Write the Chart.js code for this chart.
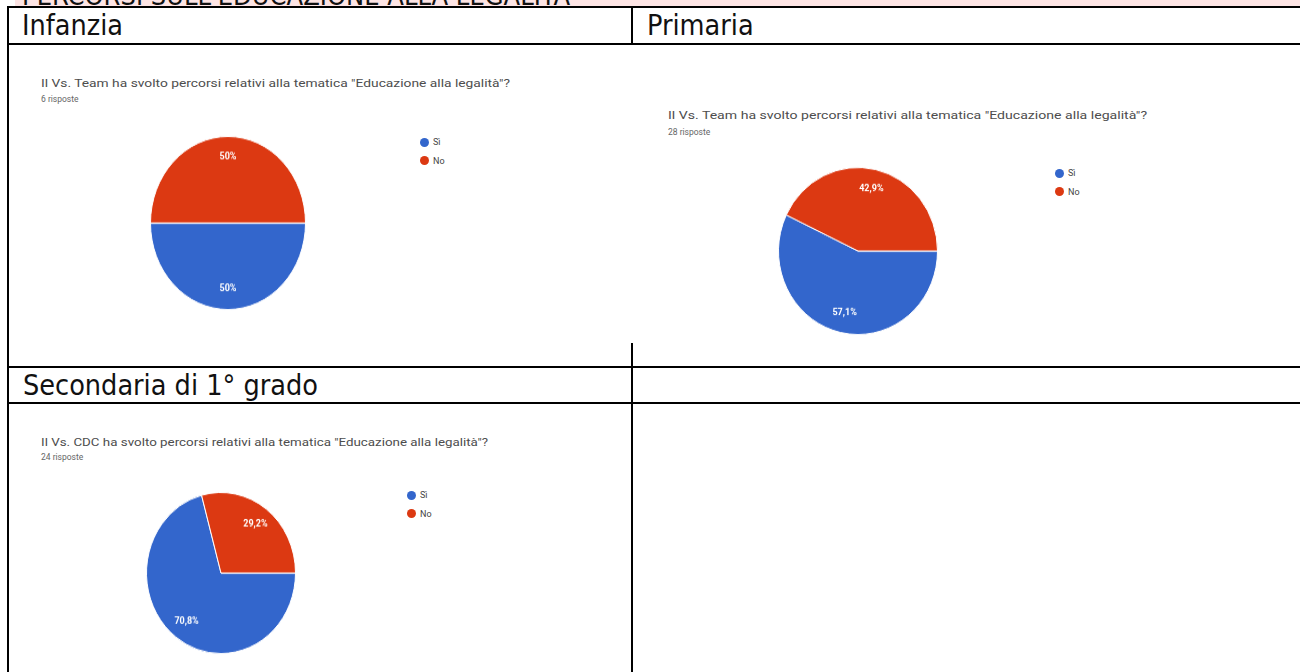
<!DOCTYPE html>
<html lang="it">
<head>
<meta charset="utf-8">
<script src="https://cdn.jsdelivr.net/npm/chart.js@4.4.1/dist/chart.umd.min.js"></script>
<style>
  html, body { margin: 0; padding: 0; background: #fff; }
  body { width: 1300px; height: 672px; position: relative; overflow: hidden; }
  .riga { position: absolute; background: #000; }
  .fascia { position: absolute; left: 15px; top: 0; width: 1285px; height: 6px; background: #fde4e4; overflow: hidden; }
  .fascia div { position: absolute; left: 7px; top: -18px; font-family: "DejaVu Sans Condensed", "DejaVu Sans", sans-serif; font-size: 27px; line-height: 27px; color: #111; white-space: nowrap; }
  .intest { position: absolute; font-family: "DejaVu Sans Condensed", "DejaVu Sans", sans-serif; font-size: 28.5px; line-height: 28px; color: #111; white-space: nowrap; }
  .titolo { position: absolute; font-family: Roboto, sans-serif; font-size: 11.5px; line-height: 14px; color: #4d4d4d; white-space: nowrap; transform-origin: 0 50%; }
  .sotto { position: absolute; font-family: Roboto, sans-serif; font-size: 8.5px; line-height: 10px; color: #666; white-space: nowrap; }
  .leg { position: absolute; display: flex; align-items: center; height: 10px; font-family: Roboto, sans-serif; font-size: 9px; color: #444; white-space: nowrap; }
  .leg span { display: inline-block; width: 9px; height: 9px; border-radius: 50%; margin-right: 4px; }
  .torta { position: absolute; transform-origin: 50% 50%; }
</style>
</head>
<body>

<div class="fascia"><div>PERCORSI SULL'EDUCAZIONE ALLA LEGALITÀ</div></div>

<!-- griglia della tabella -->
<div class="riga" style="left:7px;top:6px;width:1293px;height:2px"></div>
<div class="riga" style="left:7px;top:43px;width:1293px;height:2px"></div>
<div class="riga" style="left:7px;top:6px;width:2px;height:666px"></div>
<div class="riga" style="left:631px;top:6px;width:2px;height:38px"></div>
<div class="riga" style="left:631px;top:343px;width:2px;height:329px"></div>
<div class="riga" style="left:7px;top:366px;width:1293px;height:2px"></div>
<div class="riga" style="left:7px;top:402px;width:1293px;height:2px"></div>

<div class="intest" style="left:22px;top:12px">Infanzia</div>
<div class="intest" style="left:647px;top:12px">Primaria</div>
<div class="intest" style="left:23px;top:372px">Secondaria di 1° grado</div>

<div id="pannelli"></div>

<script>
const categorie = ["Sì", "No"];
const coloriFette = ["#3366cc", "#dc3912"];

const domandaTeam = 'Il Vs. Team ha svolto percorsi relativi alla tematica "Educazione alla legalità"?';
const domandaCdc = 'Il Vs. CDC ha svolto percorsi relativi alla tematica "Educazione alla legalità"?';

const infanziaValori = [50, 50];
const primariaValori = [57.1, 42.9];
const secondariaValori = [70.8, 29.2];

const infanziaRisposte = 6;
const primariaRisposte = 28;
const secondariaRisposte = 24;

// posizioni dei tre "screenshot" dentro la tabella
const pannelli = [
  { id: "torta1", domanda: domandaTeam, risposte: infanziaRisposte, valori: infanziaValori,
    tx: 41, ty: 76, larg: 469, sy: 94, cx: 228, cy: 222.5, rx: 77, ry: 86, lx: 420, ly: 137 },
  { id: "torta2", domanda: domandaTeam, risposte: primariaRisposte, valori: primariaValori,
    tx: 668, ty: 108, larg: 479, sy: 127, cx: 858, cy: 251, rx: 79, ry: 83, lx: 1055, ly: 168 },
  { id: "torta3", domanda: domandaCdc, risposte: secondariaRisposte, valori: secondariaValori,
    tx: 41, ty: 435, larg: 447, sy: 452, cx: 221, cy: 573, rx: 74, ry: 80, lx: 407, ly: 490 },
];

const etichettePercentuali = {
  id: "etichettePercentuali",
  afterDatasetsDraw(chart) {
    const ctx = chart.ctx;
    const dati = chart.data.datasets[0].data;
    ctx.save();
    ctx.fillStyle = "#fff";
    ctx.font = "bold 9px Roboto";
    ctx.textAlign = "center";
    ctx.textBaseline = "middle";
    chart.getDatasetMeta(0).data.forEach((arco, i) => {
      const p = arco.getProps(["x", "y", "startAngle", "endAngle", "outerRadius"], true);
      const a = (p.startAngle + p.endAngle) / 2;
      const r = p.outerRadius * 0.76;
      ctx.fillText(dati[i].toLocaleString("it-IT") + "%", p.x + Math.cos(a) * r, p.y + Math.sin(a) * r);
    });
    ctx.restore();
  },
};

const contenitore = document.getElementById("pannelli");

pannelli.forEach((p) => {
  const titolo = document.createElement("div");
  titolo.className = "titolo";
  titolo.style.left = p.tx + "px";
  titolo.style.top = p.ty + "px";
  titolo.textContent = p.domanda;
  contenitore.appendChild(titolo);
  titolo.style.transform = "scaleX(" + p.larg / titolo.offsetWidth + ")";

  const sotto = document.createElement("div");
  sotto.className = "sotto";
  sotto.style.left = p.tx + "px";
  sotto.style.top = p.sy + "px";
  sotto.textContent = p.risposte + " risposte";
  contenitore.appendChild(sotto);

  categorie.forEach((c, i) => {
    const leg = document.createElement("div");
    leg.className = "leg";
    leg.style.left = p.lx + "px";
    leg.style.top = p.ly + i * 18.5 + "px";
    leg.innerHTML = '<span style="background:' + coloriFette[i] + '"></span>' + c;
    contenitore.appendChild(leg);
  });

  // il grafico originale e' stirato: canvas rotondo poi scalato in verticale
  const lato = Math.round(p.rx * 2 + 2);
  const box = document.createElement("div");
  box.className = "torta";
  box.style.left = p.cx - lato / 2 + "px";
  box.style.top = p.cy - lato / 2 + "px";
  box.style.width = lato + "px";
  box.style.height = lato + "px";
  box.style.transform = "scaleY(" + p.ry / p.rx + ")";
  const canvas = document.createElement("canvas");
  canvas.id = p.id;
  canvas.width = lato;
  canvas.height = lato;
  box.appendChild(canvas);
  contenitore.appendChild(box);

  new Chart(canvas, {
    type: "pie",
    data: {
      labels: categorie,
      datasets: [
        {
          data: p.valori,
          backgroundColor: coloriFette,
          borderColor: "#fff",
          borderWidth: 1,
          hoverOffset: 0,
        },
      ],
    },
    options: {
      responsive: false,
      animation: false,
      rotation: 90,
      events: [],
      layout: { padding: 0 },
      plugins: {
        legend: { display: false },
        tooltip: { enabled: false },
      },
    },
    plugins: [etichettePercentuali],
  });
});
</script>
</body>
</html>
